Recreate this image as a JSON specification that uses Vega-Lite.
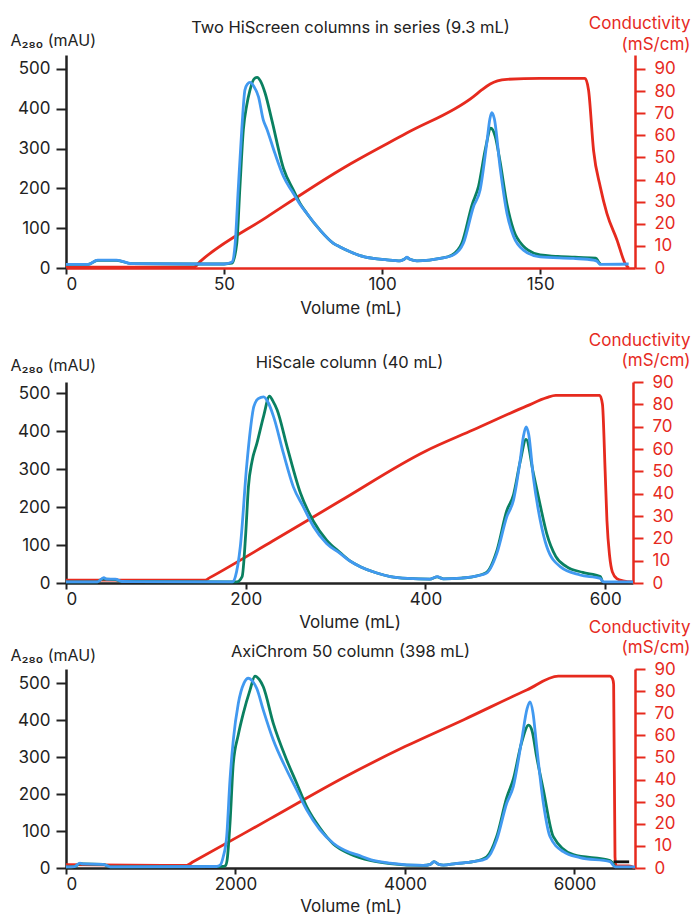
{
  "$schema": "https://vega.github.io/schema/vega-lite/v6.json",
  "padding": {"left": 10, "top": 14, "right": 2, "bottom": 0},
  "config": {
    "view": {"stroke": null},
    "font": "Inter",
    "axis": {"grid": false, "labelFont": "Inter", "titleFont": "Inter", "titleFontWeight": "normal", "labelFontSize": 17, "titleFontSize": 17, "labelColor": "#222", "titleColor": "#222", "domainColor": "#222", "tickColor": "#222", "domainWidth": 2.5, "tickWidth": 2},
    "title": {"font": "Inter", "fontWeight": "normal", "fontSize": 16.5, "color": "#222"},
    "line": {"interpolate": "monotone", "strokeWidth": 2.8}
  },
  "datasets": {
    "p1c": [{"v":0,"c":0.4},{"v":40.5,"c":0.4},{"v":42.4,"c":2.9},{"v":63.5,"c":23},{"v":86.7,"c":44.3},{"v":89.9,"c":47},{"v":107.8,"c":61},{"v":128.9,"c":77.5},{"v":131.5,"c":80.5},{"v":134.2,"c":83.2},{"v":136.5,"c":84.6},{"v":139.5,"c":85.3},{"v":150,"c":85.7},{"v":164.2,"c":85.7},{"v":165.3,"c":80.5},{"v":166.9,"c":53},{"v":169,"c":36.8},{"v":171.1,"c":24.7},{"v":174.3,"c":12.7},{"v":176.9,"c":2},{"v":178,"c":0}],
    "p1g": [{"v":0,"a":9},{"v":7,"a":9},{"v":10,"a":19},{"v":16,"a":19},{"v":20.8,"a":11},{"v":40,"a":10},{"v":50,"a":10},{"v":52.5,"a":12},{"v":54,"a":60},{"v":55,"a":200},{"v":56.1,"a":347},{"v":57.2,"a":410},{"v":58.2,"a":447},{"v":59.5,"a":475},{"v":60.5,"a":479},{"v":61.5,"a":470},{"v":63,"a":439},{"v":65.1,"a":372},{"v":68.8,"a":250},{"v":71.9,"a":196},{"v":74,"a":163},{"v":76.2,"a":137},{"v":80.4,"a":95},{"v":84.6,"a":62},{"v":86.7,"a":53},{"v":89.9,"a":41},{"v":93,"a":31},{"v":97.2,"a":24},{"v":101,"a":21},{"v":105.7,"a":18},{"v":107,"a":22},{"v":107.8,"a":26},{"v":108.8,"a":22},{"v":111,"a":18},{"v":115,"a":20},{"v":118.4,"a":24},{"v":122,"a":32},{"v":125.2,"a":62},{"v":128.5,"a":160},{"v":130.5,"a":205},{"v":132.7,"a":300},{"v":134.4,"a":351},{"v":135.8,"a":330},{"v":137.3,"a":268},{"v":139.5,"a":160},{"v":141.6,"a":95},{"v":144.7,"a":55},{"v":146.2,"a":45},{"v":150,"a":33},{"v":161,"a":27},{"v":167.6,"a":25},{"v":168.5,"a":15},{"v":169.2,"a":9}],
    "p1b": [{"v":0,"a":9},{"v":7,"a":9},{"v":10,"a":20},{"v":16,"a":20},{"v":20.8,"a":11},{"v":40,"a":10},{"v":50,"a":10},{"v":52.5,"a":15},{"v":53.5,"a":60},{"v":54.5,"a":200},{"v":55.6,"a":347},{"v":56.6,"a":447},{"v":57.4,"a":462},{"v":58.2,"a":466},{"v":59.5,"a":455},{"v":60.9,"a":430},{"v":62.4,"a":372},{"v":63.5,"a":350},{"v":66,"a":290},{"v":68.8,"a":230},{"v":70.5,"a":205},{"v":71.9,"a":188},{"v":74,"a":160},{"v":76.2,"a":137},{"v":80.4,"a":95},{"v":84.6,"a":62},{"v":86.7,"a":53},{"v":89.9,"a":41},{"v":93,"a":31},{"v":97.2,"a":24},{"v":101,"a":21},{"v":105.7,"a":18},{"v":107,"a":22},{"v":107.8,"a":27},{"v":108.8,"a":22},{"v":111,"a":18},{"v":115,"a":20},{"v":118.4,"a":24},{"v":122.6,"a":33},{"v":125.7,"a":62},{"v":128.9,"a":154},{"v":131,"a":196},{"v":133.1,"a":313},{"v":134.1,"a":375},{"v":134.7,"a":390},{"v":135.5,"a":375},{"v":137.3,"a":254},{"v":139.5,"a":137},{"v":141.6,"a":79},{"v":144.7,"a":45},{"v":150,"a":28},{"v":160.5,"a":24},{"v":166.9,"a":20},{"v":168,"a":17},{"v":169,"a":9},{"v":178,"a":10}],
    "p2c": [{"v":0,"c":1.3},{"v":155,"c":1.3},{"v":160,"c":2.4},{"v":230,"c":18.8},{"v":305,"c":36.7},{"v":400,"c":59},{"v":453.5,"c":68.6},{"v":513,"c":79.3},{"v":535,"c":83},{"v":545,"c":84},{"v":594,"c":84},{"v":597,"c":80},{"v":600,"c":50},{"v":602,"c":28},{"v":605,"c":12},{"v":608,"c":5},{"v":613,"c":2},{"v":620,"c":1},{"v":631,"c":0.5}],
    "p2g": [{"v":0,"a":3},{"v":35,"a":3},{"v":40,"a":10},{"v":45,"a":10},{"v":55,"a":9},{"v":62,"a":4},{"v":190,"a":3},{"v":196,"a":17},{"v":200,"a":130},{"v":203,"a":253},{"v":207,"a":320},{"v":212.5,"a":368},{"v":220,"a":440},{"v":226.5,"a":492},{"v":230,"a":480},{"v":235,"a":455},{"v":246,"a":359},{"v":261,"a":236},{"v":275.5,"a":162},{"v":290,"a":113},{"v":305,"a":80},{"v":316,"a":58},{"v":327.5,"a":43},{"v":345,"a":27},{"v":361,"a":17},{"v":380,"a":12},{"v":405,"a":10},{"v":413,"a":16},{"v":420,"a":11},{"v":440,"a":13},{"v":453.5,"a":17},{"v":468,"a":28},{"v":479.5,"a":85},{"v":490.5,"a":190},{"v":498,"a":232},{"v":505.5,"a":320},{"v":512,"a":378},{"v":520,"a":290},{"v":527.7,"a":205},{"v":535,"a":130},{"v":545,"a":70},{"v":557,"a":43},{"v":575,"a":28},{"v":594.5,"a":17},{"v":597,"a":3}],
    "p2b": [{"v":0,"a":3},{"v":35,"a":3},{"v":42,"a":14},{"v":45,"a":10},{"v":55,"a":10},{"v":62,"a":4},{"v":185,"a":3},{"v":188.5,"a":17},{"v":194,"a":96},{"v":201,"a":306},{"v":205,"a":400},{"v":209,"a":464},{"v":214,"a":485},{"v":220,"a":490},{"v":225,"a":475},{"v":231,"a":438},{"v":242,"a":341},{"v":253,"a":253},{"v":264,"a":201},{"v":275.5,"a":148},{"v":290,"a":104},{"v":305,"a":78},{"v":316,"a":58},{"v":327.5,"a":43},{"v":345,"a":27},{"v":361,"a":17},{"v":380,"a":12},{"v":405,"a":10},{"v":413,"a":17},{"v":420,"a":11},{"v":440,"a":13},{"v":453.5,"a":17},{"v":468,"a":26},{"v":479.5,"a":78},{"v":490.5,"a":174},{"v":498,"a":218},{"v":505.5,"a":324},{"v":509,"a":385},{"v":512,"a":411},{"v":515,"a":390},{"v":520,"a":280},{"v":527.7,"a":166},{"v":535,"a":96},{"v":550,"a":43},{"v":572,"a":21},{"v":594.5,"a":12},{"v":598,"a":3},{"v":631,"a":3}],
    "p3c": [{"v":0,"c":1.5},{"v":1424,"c":1.2},{"v":1500,"c":2.8},{"v":2400,"c":22.1},{"v":3300,"c":41.4},{"v":4000,"c":54.9},{"v":4700,"c":67.2},{"v":5436,"c":80.5},{"v":5809,"c":86.8},{"v":6419,"c":86.8},{"v":6450,"c":85.5},{"v":6462,"c":83},{"v":6478,"c":5},{"v":6490,"c":1},{"v":6640,"c":1},{"v":6714,"c":0}],
    "p3k": [{"v":6460,"c":2.8},{"v":6645,"c":2.8}],
    "p3g": [{"v":0,"a":3},{"v":100,"a":4},{"v":165,"a":12},{"v":200,"a":11},{"v":440,"a":10},{"v":520,"a":3},{"v":1850,"a":4},{"v":1880,"a":6},{"v":1900,"a":20},{"v":1935,"a":120},{"v":1974,"a":283},{"v":2033,"a":360},{"v":2092,"a":418},{"v":2171,"a":481},{"v":2230,"a":519},{"v":2280,"a":510},{"v":2328,"a":490},{"v":2446,"a":391},{"v":2604,"a":292},{"v":2722,"a":229},{"v":2840,"a":166},{"v":2997,"a":108},{"v":3154,"a":65},{"v":3351,"a":38},{"v":3600,"a":20},{"v":3823,"a":12},{"v":4216,"a":7},{"v":4300,"a":10},{"v":4342,"a":17},{"v":4400,"a":10},{"v":4453,"a":8},{"v":4600,"a":12},{"v":4806,"a":17},{"v":4964,"a":30},{"v":5082,"a":85},{"v":5200,"a":190},{"v":5278,"a":240},{"v":5377,"a":340},{"v":5459,"a":386},{"v":5500,"a":370},{"v":5554,"a":300},{"v":5633,"a":211},{"v":5750,"a":85},{"v":5986,"a":36},{"v":6419,"a":20},{"v":6478,"a":3}],
    "p3b": [{"v":0,"a":3},{"v":100,"a":4},{"v":165,"a":13},{"v":200,"a":11},{"v":440,"a":10},{"v":520,"a":3},{"v":1778,"a":4},{"v":1820,"a":8},{"v":1856,"a":31},{"v":1896,"a":85},{"v":1935,"a":238},{"v":1974,"a":346},{"v":2033,"a":445},{"v":2100,"a":500},{"v":2151,"a":513},{"v":2200,"a":505},{"v":2250,"a":486},{"v":2328,"a":427},{"v":2446,"a":346},{"v":2604,"a":265},{"v":2722,"a":211},{"v":2840,"a":157},{"v":2997,"a":103},{"v":3154,"a":67},{"v":3351,"a":42},{"v":3430,"a":36},{"v":3600,"a":22},{"v":3823,"a":13},{"v":4216,"a":7},{"v":4300,"a":10},{"v":4342,"a":17},{"v":4400,"a":10},{"v":4453,"a":8},{"v":4600,"a":12},{"v":4806,"a":17},{"v":4964,"a":26},{"v":5082,"a":76},{"v":5200,"a":175},{"v":5278,"a":220},{"v":5377,"a":346},{"v":5440,"a":430},{"v":5475,"a":449},{"v":5510,"a":420},{"v":5554,"a":328},{"v":5633,"a":175},{"v":5711,"a":85},{"v":5868,"a":44},{"v":6065,"a":28},{"v":6419,"a":17},{"v":6478,"a":3},{"v":6714,"a":3}]
  },
  "vconcat": [
    {
      "width": 569, "height": 213,
      "title": {"text": "Two HiScreen columns in series (9.3 mL)", "anchor": "middle", "offset": -22},
      "layer": [
        {"data": {"name": "p1c"}, "mark": {"type": "line", "color": "#e62a1e"},
         "encoding": {
           "x": {"field": "v", "type": "quantitative", "scale": {"domain": [0, 180], "nice": false, "zero": false},
                 "axis": {"values": [0, 50, 100, 150], "title": "Volume (mL)", "domainColor": "#e62a1e", "tickSize": 6, "labelPadding": 2, "titlePadding": 8}},
           "y": {"field": "c", "type": "quantitative", "scale": {"domain": [0, 96.3], "nice": false},
                 "axis": {"orient": "right", "values": [0,10,20,30,40,50,60,70,80,90], "title": ["Conductivity", "(mS/cm)"], "titleAngle": 0, "titleAlign": "right", "titleBaseline": "alphabetic", "titleX": 55, "titleY": -27, "titleLineHeight": 21, "titleColor": "#e62a1e", "labelColor": "#e62a1e", "tickColor": "#e62a1e", "domainColor": "#e62a1e", "tickSize": 10, "labelPadding": 9}}
         }},
        {"data": {"name": "p1g"}, "mark": {"type": "line", "color": "#0a8060"},
         "encoding": {
           "x": {"field": "v", "type": "quantitative"},
           "y": {"field": "a", "type": "quantitative", "scale": {"domain": [0, 535], "nice": false},
                 "axis": {"orient": "left", "values": [0,100,200,300,400,500], "title": "A₂₈₀ (mAU)", "titleFontSize": 16, "titleAngle": 0, "titleAlign": "left", "titleBaseline": "alphabetic", "titleX": -56, "titleY": -10, "tickSize": 10, "labelPadding": 6}}
         }},
        {"data": {"name": "p1b"}, "mark": {"type": "line", "color": "#4199f0"},
         "encoding": {
           "x": {"field": "v", "type": "quantitative"},
           "y": {"field": "a", "type": "quantitative", "scale": {"domain": [0, 535], "nice": false}, "axis": null}
         }}
      ],
      "resolve": {"scale": {"y": "independent"}}
    },
    {
      "bounds": "flush",
      "spacing": 86,
      "vconcat": [
        {
          "width": 567, "height": 201,
          "title": {"text": "HiScale column (40 mL)", "anchor": "middle", "offset": -40},
          "layer": [
            {"data": {"name": "p2c"}, "mark": {"type": "line", "color": "#e62a1e"},
             "encoding": {
               "x": {"field": "v", "type": "quantitative", "scale": {"domain": [0, 631], "nice": false, "zero": false},
                     "axis": {"values": [0, 200, 400, 600], "title": "Volume (mL)", "tickSize": 6, "labelPadding": 2, "titlePadding": 7}},
               "y": {"field": "c", "type": "quantitative", "scale": {"domain": [0, 90], "nice": false},
                     "axis": {"orient": "right", "values": [0,10,20,30,40,50,60,70,80,90], "title": ["Conductivity", "(mS/cm)"], "titleAngle": 0, "titleAlign": "right", "titleBaseline": "alphabetic", "titleX": 57, "titleY": -37, "titleLineHeight": 20, "titleColor": "#e62a1e", "labelColor": "#e62a1e", "tickColor": "#e62a1e", "domainColor": "#e62a1e", "tickSize": 10, "labelPadding": 9}}
             }},
            {"data": {"name": "p2g"}, "mark": {"type": "line", "color": "#0a8060"},
             "encoding": {
               "x": {"field": "v", "type": "quantitative"},
               "y": {"field": "a", "type": "quantitative", "scale": {"domain": [0, 529], "nice": false},
                     "axis": {"orient": "left", "values": [0,100,200,300,400,500], "title": "A₂₈₀ (mAU)", "titleFontSize": 16, "titleAngle": 0, "titleAlign": "left", "titleBaseline": "alphabetic", "titleX": -56, "titleY": -12, "tickSize": 10, "labelPadding": 6}}
             }},
            {"data": {"name": "p2b"}, "mark": {"type": "line", "color": "#4199f0"},
             "encoding": {
               "x": {"field": "v", "type": "quantitative"},
               "y": {"field": "a", "type": "quantitative", "scale": {"domain": [0, 529], "nice": false}, "axis": null}
             }}
          ],
          "resolve": {"scale": {"y": "independent"}}
        },
        {
          "width": 569, "height": 199,
          "title": {"text": "AxiChrom 50 column (398 mL)", "anchor": "middle", "offset": -42},
          "layer": [
            {"data": {"name": "p3c"}, "mark": {"type": "line", "color": "#e62a1e"},
             "encoding": {
               "x": {"field": "v", "type": "quantitative", "scale": {"domain": [0, 6714], "nice": false, "zero": false},
                     "axis": {"values": [0, 2000, 4000, 6000], "format": "d", "title": "Volume (mL)", "tickSize": 6, "labelPadding": 2, "titlePadding": 6}},
               "y": {"field": "c", "type": "quantitative", "scale": {"domain": [0, 90], "nice": false},
                     "axis": {"orient": "right", "values": [0,10,20,30,40,50,60,70,80,90], "title": ["Conductivity", "(mS/cm)"], "titleAngle": 0, "titleAlign": "right", "titleBaseline": "alphabetic", "titleX": 55, "titleY": -37, "titleLineHeight": 20, "titleColor": "#e62a1e", "labelColor": "#e62a1e", "tickColor": "#e62a1e", "domainColor": "#e62a1e", "tickSize": 10, "labelPadding": 9}}
             }},
            {"data": {"name": "p3k"}, "mark": {"type": "line", "color": "#111", "interpolate": "linear"},
             "encoding": {
               "x": {"field": "v", "type": "quantitative"},
               "y": {"field": "c", "type": "quantitative", "scale": {"domain": [0, 90], "nice": false}, "axis": null}
             }},
            {"data": {"name": "p3g"}, "mark": {"type": "line", "color": "#0a8060"},
             "encoding": {
               "x": {"field": "v", "type": "quantitative"},
               "y": {"field": "a", "type": "quantitative", "scale": {"domain": [0, 538], "nice": false},
                     "axis": {"orient": "left", "values": [0,100,200,300,400,500], "title": "A₂₈₀ (mAU)", "titleFontSize": 16, "titleAngle": 0, "titleAlign": "left", "titleBaseline": "alphabetic", "titleX": -56, "titleY": -9, "tickSize": 10, "labelPadding": 6}}
             }},
            {"data": {"name": "p3b"}, "mark": {"type": "line", "color": "#4199f0"},
             "encoding": {
               "x": {"field": "v", "type": "quantitative"},
               "y": {"field": "a", "type": "quantitative", "scale": {"domain": [0, 538], "nice": false}, "axis": null}
             }}
          ],
          "resolve": {"scale": {"y": "independent"}}
        }
      ]
    }
  ],
  "spacing": 114,
  "bounds": "flush"
}
